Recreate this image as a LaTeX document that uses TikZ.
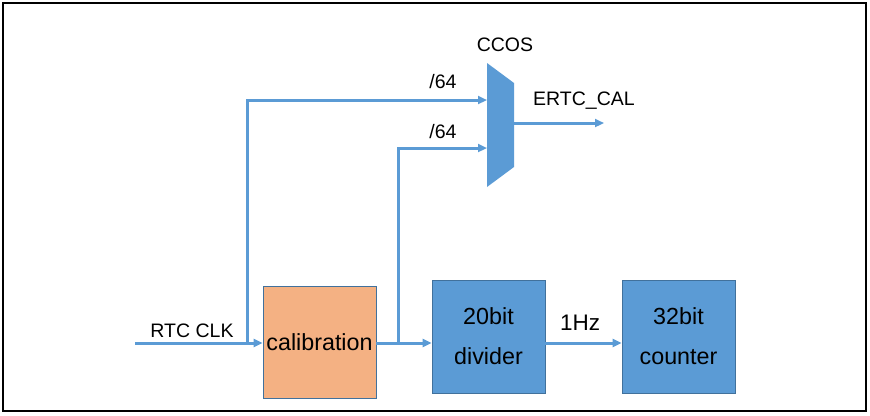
\documentclass[tikz,border=0pt]{standalone}
\usepackage{fontspec}
\setmainfont{Liberation Sans}
\usetikzlibrary{arrows.meta}
\definecolor{rtcblue}{HTML}{5B9BD5}
\definecolor{rtcedge}{HTML}{41719C}
\definecolor{rtcorange}{HTML}{F4B183}
\tikzset{
  blk/.style={draw=rtcedge, line width=0.8pt, minimum width=113pt, minimum height=113pt, inner sep=0pt, align=center, font=\fontsize{23.3}{40}\selectfont},
  wire/.style={draw=rtcblue, line width=3pt},
  arr/.style={wire, -{Triangle[length=9pt,width=8pt]}},
  lbl/.style={inner sep=0pt, font=\fontsize{19.5}{22}\selectfont},
}
\begin{document}
\begin{tikzpicture}[x=1pt,y=-1pt]
\useasboundingbox (0,0) rectangle (870,415);
\draw[line width=1.5pt] (3,3) rectangle (866,411);
% blocks
\node[blk, fill=rtcorange, minimum height=112pt] (cal) at (319.5,342) {calibration};
\node[blk, fill=rtcblue] (div) at (488.5,336.5) {20bit\\divider};
\node[blk, fill=rtcblue] (cnt) at (678.5,336.5) {32bit\\counter};
% mux
\fill[rtcblue] (487,63) -- (514,83) -- (514,167) -- (487,187) -- cycle;
\coordinate (muxA) at (487,100);
\coordinate (muxB) at (487,148);
\coordinate (muxO) at (514,123);
\coordinate (out) at (604,123);
\coordinate (src) at (135,343);
\coordinate (b1) at (247,343);
\coordinate (b2) at (398,343);
% wires
\draw[arr] (src) -- (cal.west |- src);
\draw[arr] (b1) -- (247,100) -- (muxA);
\draw[wire] (cal.east |- b2) -- (b2);
\draw[arr] (b2) -- (div.west |- b2);
\draw[arr] (b2) -- (398,148) -- (muxB);
\draw[arr] (div.east |- b2) -- (cnt.west |- b2);
\draw[arr] (muxO) -- (out);
% labels
\node[lbl] (lclk) at (192,331) {RTC CLK};
\node[lbl] (l64a) at (443,82) {/64};
\node[lbl] (l64b) at (443,132) {/64};
\node[lbl] (lccos) at (505,45) {CCOS};
\node[lbl, anchor=west] (lcal) at (533,101) {ERTC\_CAL};
\node[lbl, font=\fontsize{22.5}{24}\selectfont] (lhz) at (580,323) {1Hz};
\end{tikzpicture}
\end{document}
